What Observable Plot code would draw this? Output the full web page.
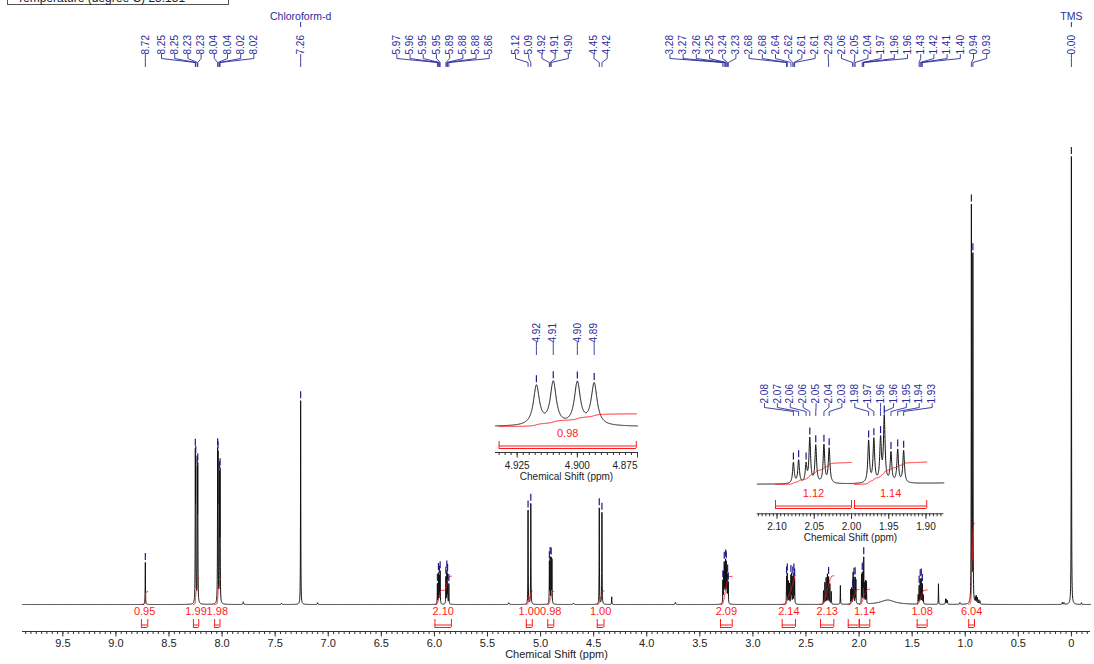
<!DOCTYPE html>
<html>
<head>
<meta charset="utf-8">
<script src="https://cdn.jsdelivr.net/npm/d3@7"></script>
<script src="https://cdn.jsdelivr.net/npm/@observablehq/plot@0.6"></script>
<style>
html,body{margin:0;padding:0;background:#fff;}
#wrap{position:relative;width:1094px;height:664px;overflow:hidden;background:#fff;font-family:"Liberation Sans",Arial,sans-serif;}
#wrap svg{position:absolute;overflow:visible;}
#tbox{position:absolute;left:7px;top:-16px;width:222px;height:21px;box-sizing:border-box;border:1px solid #555;}
#tbox span{position:absolute;left:9px;bottom:0px;font-size:12px;line-height:12px;color:#222;white-space:nowrap;}
</style>
</head>
<body>
<div id="wrap"><div id="tbox"><span>Temperature (degree C) 25.151</span></div></div>
<script>
// ---------------- DATA ----------------
// spectrum peaks: chemical shift (ppm), height (TMS = 1), half width at half height (ppm)
const peakPpm = [
  8.723, 8.252, 8.248, 8.233, 8.229, 8.042, 8.038, 8.024, 8.019, 7.800, 7.440, 7.260, 7.100,
  5.972, 5.962, 5.953, 5.946, 5.892, 5.883, 5.876, 5.864,
  5.300, 5.118, 5.092, 4.917, 4.910, 4.900, 4.893, 4.690, 4.447, 4.422, 4.330,
  3.730, 3.283, 3.276, 3.270, 3.264, 3.257, 3.251, 3.245, 3.238, 3.232,
  2.683, 2.676, 2.665, 2.655, 2.642, 2.635, 2.624, 2.614, 2.607,
  2.335, 2.322, 2.310, 2.298, 2.287, 2.275, 2.262, 2.176,
  2.078, 2.071, 2.061, 2.056, 2.048, 2.037, 2.030, 1.977, 1.970, 1.961, 1.956, 1.947, 1.938, 1.930,
  1.730, 1.443, 1.434, 1.424, 1.414, 1.404, 1.395, 1.252, 1.185, 1.176, 1.168,
  1.050, 0.942, 0.928, 0.905, 0.896, 0.886, 0.872, 0.862, 0.085, 0.070, 0.000, -0.095
];
const peakHeight = [
  0.094, 0.31, 0.29, 0.27, 0.28, 0.31, 0.30, 0.27, 0.28, 0.006, 0.003, 0.455, 0.004,
  0.045, 0.068, 0.060, 0.072, 0.060, 0.072, 0.065, 0.045,
  0.004, 0.210, 0.225, 0.092, 0.100, 0.099, 0.097, 0.003, 0.215, 0.205, 0.017,
  0.005, 0.050, 0.065, 0.085, 0.078, 0.090, 0.085, 0.070, 0.060, 0.045,
  0.060, 0.066, 0.050, 0.045, 0.062, 0.066, 0.060, 0.066, 0.055,
  0.030, 0.048, 0.058, 0.066, 0.060, 0.045, 0.028, 0.042,
  0.032, 0.035, 0.028, 0.068, 0.057, 0.058, 0.053, 0.064, 0.066, 0.065, 0.099, 0.045, 0.050, 0.049,
  0.010, 0.020, 0.040, 0.054, 0.056, 0.044, 0.020, 0.046, 0.012, 0.010, 0.008,
  0.004, 0.885, 0.775, 0.012, 0.017, 0.014, 0.009, 0.007, 0.005, 0.004, 1.000, 0.004
];
const peakHalfWidth = [
  0.0015, 0.0015, 0.0015, 0.0015, 0.0015, 0.0015, 0.0015, 0.0015, 0.0015, 0.003, 0.003, 0.0015, 0.003,
  0.0015, 0.0015, 0.0015, 0.0015, 0.0015, 0.0015, 0.0015, 0.0015,
  0.004, 0.0015, 0.0015, 0.0015, 0.0015, 0.0015, 0.0015, 0.004, 0.0015, 0.0015, 0.0015,
  0.003, 0.0015, 0.0015, 0.0015, 0.0015, 0.0015, 0.0015, 0.0015, 0.0015, 0.0015,
  0.0015, 0.0015, 0.0015, 0.0015, 0.0015, 0.0015, 0.0015, 0.0015, 0.0015,
  0.0015, 0.0015, 0.0015, 0.0015, 0.0015, 0.0015, 0.0015, 0.0015,
  0.0013, 0.0013, 0.0013, 0.0013, 0.0013, 0.0013, 0.0013, 0.0013, 0.0013, 0.0013, 0.0013, 0.0013, 0.0013, 0.0013,
  0.08, 0.0015, 0.0015, 0.0015, 0.0015, 0.0015, 0.0015, 0.0015, 0.002, 0.002, 0.002,
  0.003, 0.0015, 0.0015, 0.002, 0.002, 0.002, 0.002, 0.002, 0.002, 0.002, 0.0015, 0.002
];

// picked peak labels
const mainLabelPpm = [
  8.723, 8.252, 8.248, 8.233, 8.229, 8.042, 8.038, 8.024, 8.019, 7.260,
  5.972, 5.962, 5.953, 5.946, 5.892, 5.883, 5.876, 5.864,
  5.118, 5.092, 4.917, 4.910, 4.900, 4.447, 4.422,
  3.283, 3.270, 3.257, 3.251, 3.238, 3.232,
  2.683, 2.676, 2.642, 2.624, 2.614, 2.607, 2.287,
  2.061, 2.048, 2.037, 1.970, 1.961, 1.956,
  1.434, 1.424, 1.414, 1.404, 0.942, 0.928, 0.000
];
const inset1LabelPpm = [4.917, 4.910, 4.900, 4.893];
const inset2LabelPpm = [2.078, 2.071, 2.061, 2.056, 2.048, 2.037, 2.030, 1.977, 1.970, 1.961, 1.956, 1.947, 1.938, 1.930];
const annotationPpm = [7.260, 0.000];
const annotationText = ["Chloroform-d", "TMS"];

// integrals
const intFrom  = [8.760, 8.270, 8.070, 5.995, 5.134, 4.9325, 4.466, 3.305, 2.724, 2.363, 2.102, 1.996, 1.453, 0.967];
const intTo    = [8.700, 8.220, 8.020, 5.840, 5.078, 4.8755, 4.403, 3.195, 2.599, 2.238, 2.000, 1.899, 1.359, 0.913];
const intValue = [0.95, 1.99, 1.98, 2.10, 1.00, 0.98, 1.00, 2.09, 2.14, 2.13, 1.12, 1.14, 1.08, 6.04];

// axis ticks
const mainTickValues = [9.5, 9.0, 8.5, 8.0, 7.5, 7.0, 6.5, 6.0, 5.5, 5.0, 4.5, 4.0, 3.5, 3.0, 2.5, 2.0, 1.5, 1.0, 0.5, 0];
const mainTickLabels = ["9.5","9.0","8.5","8.0","7.5","7.0","6.5","6.0","5.5","5.0","4.5","4.0","3.5","3.0","2.5","2.0","1.5","1.0","0.5","0"];
const inset1TickValues = [4.925, 4.900, 4.875];
const inset1TickLabels = ["4.925", "4.900", "4.875"];
const inset2TickValues = [2.10, 2.05, 2.00, 1.95, 1.90];
const inset2TickLabels = ["2.10", "2.05", "2.00", "1.95", "1.90"];
const axisTitle = "Chemical Shift (ppm)";

// ---------------- helpers ----------------
const U = 0.0301; // integral curve height per integral unit (intensity units)
const BLUE = "#2b2b9c", RED = "#ff1a1a", INK = "#111";

function spec(p) {
  let s = 0;
  for (let i = 0; i < peakPpm.length; i++) {
    const d = (p - peakPpm[i]) / peakHalfWidth[i];
    s += peakHeight[i] / (1 + d * d);
  }
  return s;
}
function sampleSpectrum(a, b, n) {
  const ps = [];
  for (let k = 0; k <= n; k++) ps.push(a - (a - b) * k / n);
  for (const c of peakPpm) if (c < a && c > b) ps.push(c);
  ps.sort((u, v) => v - u);
  return ps.map(p => ({p, v: spec(p)}));
}
function integralCurve(i, a, b) {
  const n = Math.max(50, Math.ceil((intFrom[i] - intTo[i]) / 0.0002));
  const A = intFrom[i], Bb = intTo[i];
  let cum = 0, prev = spec(A);
  const pts = [{p: A, c: 0}];
  for (let k = 1; k <= n; k++) {
    const p = A - (A - Bb) * k / n, v = spec(p);
    cum += (prev + v) / 2; prev = v;
    pts.push({p, c: cum});
  }
  return pts.filter(d => d.p <= a && d.p >= b).map(d => ({id: i, p: d.p, v: d.c / cum * intValue[i] * U}));
}
function layoutLabels(ppms, toPx, toPpm, gap) {
  const ideal = ppms.map(toPx);
  const blocks = [];
  ideal.forEach(v => {
    blocks.push({n: 1, adj: v});
    while (blocks.length > 1) {
      const c = blocks[blocks.length - 1], q = blocks[blocks.length - 2];
      if (q.adj / q.n + q.n * gap > c.adj / c.n) {
        q.adj = q.adj + c.adj - c.n * q.n * gap;
        q.n += c.n;
        blocks.pop();
      } else break;
    }
  });
  const out = [];
  blocks.forEach(bk => { const s = bk.adj / bk.n; for (let j = 0; j < bk.n; j++) out.push(s + j * gap); });
  return out.map(toPpm);
}

function panel(cfg) {
  const {w, h, mL, mR, dom, B, K} = cfg;
  const yOf = px => (B - px) / K;
  const span = w - mL - mR;
  const toPx = p => mL + (dom[0] - p) / (dom[0] - dom[1]) * span;
  const toPpm = x => dom[0] - (x - mL) / span * (dom[0] - dom[1]);
  const axisY = B + cfg.axisOff;
  const lo = Math.min(dom[0], dom[1]), hi = Math.max(dom[0], dom[1]);

  const spectrum = sampleSpectrum(dom[0], dom[1], cfg.samples);
  const curves = cfg.ints.flatMap(i => integralCurve(i, hi, lo));
  const regions = cfg.ints.map(i => ({i, a: Math.min(intFrom[i], hi), b: Math.max(intTo[i], lo), c: (intFrom[i] + intTo[i]) / 2, t: intValue[i].toFixed(2)}));
  const shown = regions.filter((r, k) => {
    const nx = regions[k + 1];
    return !nx || Math.abs(toPx(r.c) - toPx(nx.c)) >= 13;
  });

  const lxs = layoutLabels(cfg.labels, toPx, toPpm, cfg.gap);
  const labels = cfg.labels.map((p, k) => ({k, p, lx: lxs[k], t: p.toFixed(2), top: spec(p)}));
  const lb = cfg.labelBottom;
  const conn = labels.flatMap(d => [
    {k: d.k, x: d.lx, y: yOf(lb)}, {k: d.k, x: d.lx, y: yOf(lb + 4)},
    {k: d.k, x: d.p, y: yOf(lb + 8)}, {k: d.k, x: d.p, y: yOf(lb + 12)}
  ]);

  const minor = [];
  for (let k = 0; ; k++) {
    const v = +(cfg.minorStart - k * cfg.minorStep).toFixed(5);
    if (v < lo) break;
    if (v <= hi) minor.push(v);
  }
  const ticks = cfg.tickValues.map((v, k) => ({v, t: cfg.tickLabels[k]}));
  const lastEnd = cfg.lastTickEnd;

  const marks = [
    // axis
    Plot.ruleY([yOf(axisY)], {stroke: "#333", strokeWidth: 1}),
    Plot.ruleX(minor, {x: d => d, y1: yOf(axisY), y2: yOf(axisY + 3), stroke: "#333", strokeWidth: 1}),
    Plot.ruleX(ticks, {x: "v", y1: yOf(axisY), y2: yOf(axisY + 5.5), stroke: "#333", strokeWidth: 1}),
    Plot.text(lastEnd ? ticks.slice(0, -1) : ticks, {x: "v", y: yOf(axisY + cfg.tickLabOff), text: "t", fontSize: cfg.tickFont, fill: "#222"}),
    lastEnd ? Plot.text(ticks.slice(-1), {x: "v", y: yOf(axisY + cfg.tickLabOff), text: "t", fontSize: cfg.tickFont, fill: "#222", textAnchor: "end"}) : null,
    Plot.text([axisTitle], {frameAnchor: "bottom", dy: cfg.titleOff, text: d => d, fontSize: cfg.titleFont, fill: "#222"}),
    // spectrum
    Plot.line(spectrum, {x: "p", y: "v", stroke: INK, strokeWidth: 1}),
    // integrals
    Plot.line(curves, {x: "p", y: "v", z: "id", stroke: RED, strokeWidth: 1}),
    Plot.ruleX(regions.flatMap(r => [r.a, r.b]), {x: d => d, y1: yOf(B + cfg.brTop), y2: yOf(B + cfg.brBot), stroke: RED, strokeWidth: 1}),
    Plot.ruleY(regions, {x1: "a", x2: "b", y: () => yOf(B + cfg.brBot), stroke: RED, strokeWidth: 1}),
    Plot.ruleY(regions, {x1: "a", x2: "b", y: () => yOf(B + cfg.brBot - 2.5), stroke: RED, strokeWidth: 1}),
    Plot.text(shown, {x: "c", y: () => yOf(B + cfg.numOff), text: "t", fill: RED, fontSize: cfg.numFont}),
    // peak picking
    Plot.ruleX(labels, {x: "p", y1: d => d.top + 2 / K, y2: d => d.top + 9 / K, stroke: "#1a1a8a", strokeWidth: 1.2}),
    Plot.line(conn, {x: "x", y: "y", z: "k", stroke: BLUE, strokeWidth: 0.9}),
    Plot.text(labels, {x: "lx", y: () => yOf(lb), text: "t", rotate: -90, textAnchor: "start", fill: BLUE, fontSize: cfg.labelFont})
  ];
  if (cfg.annotations) {
    const ann = annotationPpm.map((p, k) => ({t: annotationText[k], x: labels.find(d => d.p === p).lx}));
    marks.push(Plot.text(ann, {x: "x", y: () => yOf(16), text: "t", fill: BLUE, fontSize: 10.5}));
    marks.push(Plot.ruleX(ann, {x: "x", y1: yOf(22), y2: yOf(27), stroke: BLUE, strokeWidth: 1}));
  }

  const svg = Plot.plot({
    width: w, height: h,
    marginLeft: mL, marginRight: mR, marginTop: 0, marginBottom: h - axisY,
    x: {domain: dom, axis: null},
    y: {domain: [yOf(axisY), yOf(0)], axis: null},
    style: {background: "transparent", fontFamily: "'Liberation Sans', Arial, sans-serif", overflow: "visible"},
    marks: marks.filter(Boolean)
  });
  svg.style.left = cfg.left + "px";
  svg.style.top = cfg.top + "px";
  document.getElementById("wrap").appendChild(svg);
}

// main spectrum
panel({
  left: 0, top: 0, w: 1094, h: 664, mL: 22, mR: 4, dom: [9.88, -0.18], B: 604, K: 448,
  samples: 12000, axisOff: 27, tickLabOff: 12, titleOff: 26, numOff: 7, brTop: 15, brBot: 23,
  tickFont: 11, titleFont: 11, numFont: 11, labelFont: 10,
  tickValues: mainTickValues, tickLabels: mainTickLabels, minorStart: 9.85, minorStep: 0.05,
  labels: mainLabelPpm, labelBottom: 54, gap: 13.2, annotations: true,
  ints: d3.range(intValue.length)
});
// expansion 4.93 - 4.875
panel({
  left: 480, top: 318, w: 170, h: 175, mL: 15, mR: 13, dom: [4.934, 4.875], B: 108, K: 428,
  samples: 1200, axisOff: 26, tickLabOff: 13.5, titleOff: 27, numOff: 7, brTop: 15, brBot: 22,
  tickFont: 10, titleFont: 10, numFont: 11, labelFont: 10,
  tickValues: inset1TickValues, tickLabels: inset1TickLabels, minorStart: 4.9325, minorStep: 0.0025, lastTickEnd: true,
  labels: inset1LabelPpm, labelBottom: 24, gap: 13,
  ints: [5]
});
// expansion 2.12 - 1.88
panel({
  left: 745, top: 375, w: 205, h: 175, mL: 11.7, mR: 6.7, dom: [2.1266, 1.8761], B: 109, K: 653,
  samples: 1600, axisOff: 29.3, tickLabOff: 13, titleOff: 27, numOff: 9.3, brTop: 16, brBot: 24,
  tickFont: 10, titleFont: 10, numFont: 11, labelFont: 10,
  tickValues: inset2TickValues, tickLabels: inset2TickLabels, minorStart: 2.125, minorStep: 0.005,
  labels: inset2LabelPpm, labelBottom: 28, gap: 12.9,
  ints: [10, 11]
});
</script>
</body>
</html>
